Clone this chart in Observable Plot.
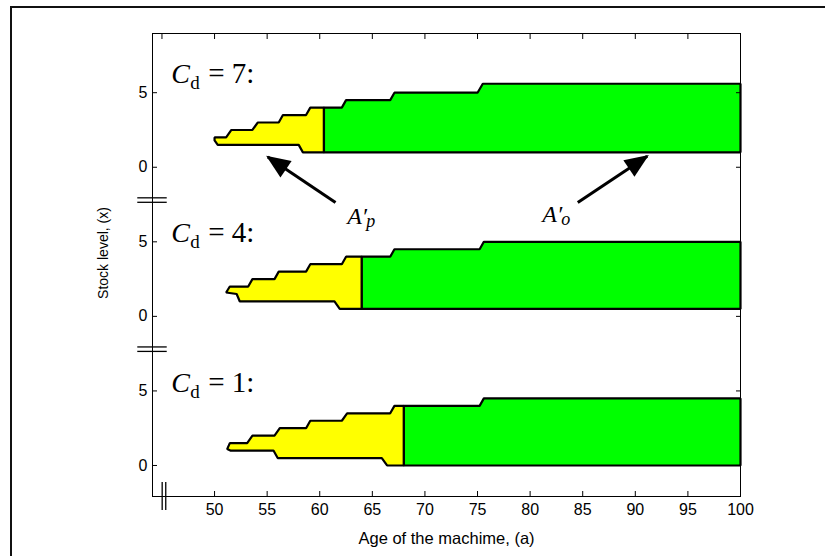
<!DOCTYPE html>
<html><head><meta charset="utf-8">
<script src="https://cdn.jsdelivr.net/npm/d3@7"></script>
<script src="https://cdn.jsdelivr.net/npm/@observablehq/plot@0.6"></script>
<style>
html,body{margin:0;padding:0;background:#fff;}
#wrap{position:relative;width:825px;height:556px;overflow:hidden;background:#fff;}
#border{position:absolute;left:10px;top:6px;width:900px;height:700px;border-top:2px solid #111;border-left:2px solid #111;}
#chart{position:absolute;left:0;top:0;}
</style></head><body>
<div id="wrap"><div id="border"></div><div id="chart"></div></div>
<script>
// ---- data ----
const cdValues = ["7", "4", "1"];          // C_d of each panel, top to bottom
const panelOffset = [20, 10, 0];           // vertical offset of each panel on the shared y scale
const dividers = [60.4, 64.0, 68.0];       // age separating A'_p (yellow) and A'_o (green)

const upper7 = [[50.0,2.0],[51.1,2.0],[51.6,2.5],[53.6,2.5],[54.1,3.0],[56.1,3.0],[56.5,3.5],[58.7,3.5],[59.1,4.0],[60.4,4.0],[62.1,4.0],[62.5,4.5],[66.7,4.5],[67.1,5.0],[75.0,5.0],[75.5,5.6],[100,5.6]];
const lower7 = [[50.0,1.8],[50.3,1.5],[58.0,1.5],[58.4,1.0],[60.4,1.0],[100,1.0]];
const upper4 = [[51.45,2.0],[53.2,2.0],[53.6,2.5],[55.7,2.5],[56.1,3.0],[58.7,3.0],[59.1,3.5],[62.1,3.5],[62.5,4.0],[64.0,4.0],[66.7,4.0],[67.1,4.5],[75.2,4.5],[75.6,5.0],[100,5.0]];
const lower4 = [[51.1,1.6],[52.1,1.5],[52.4,1.0],[61.4,1.0],[61.9,0.5],[64.0,0.5],[100,0.5]];
const upper1 = [[51.45,1.5],[53.1,1.5],[53.6,2.0],[55.7,2.0],[56.2,2.5],[58.7,2.5],[59.1,3.0],[62.1,3.0],[62.6,3.5],[66.7,3.5],[67.1,4.0],[68.0,4.0],[75.2,4.0],[75.6,4.5],[100,4.5]];
const lower1 = [[51.2,1.1],[51.5,1.0],[55.6,1.0],[56.0,0.5],[65.9,0.5],[66.4,0.0],[68.0,0.0],[100,0.0]];

const xTicksTop = [45,50,55,60,65,70,75,80,85,90,95,100];
const xTicksBottom = [50,55,60,65,70,75,80,85,90,95,100];
const yTicks = [0,5,10,15,20,25];
const yTickLabels = ["0","5","0","5","0","5"];
const yBreaks = [7.8, 17.8];
const xBreak = [45.02, 45.36];

const arrowX1 = [61.5, 84.53], arrowY1 = [17.63, 17.63];
const arrowX2 = [55.06, 91.13], arrowY2 = [20.69, 20.74];
const areaSubs = ["p", "o"];
const areaLabelX = [62.61, 81.15], areaLabelY = [16.17, 16.33];
const cdLabelX = 45.88, cdLabelY = [25.62, 14.99, 4.92];

// ---- build polygons ----
const uppers = [upper7, upper4, upper1], lowers = [lower7, lower4, lower1];
const yellowPts = [], greenPts = [];
uppers.forEach((up, i) => {
  const lo = lowers[i], div = dividers[i], off = panelOffset[i];
  const yl = [...up.filter(d => d[0] <= div), ...lo.filter(d => d[0] <= div).reverse()];
  const gr = [...up.filter(d => d[0] >= div), ...lo.filter(d => d[0] >= div).reverse()];
  yl.forEach(([x, y]) => yellowPts.push({panel: i, x, y: y + off}));
  gr.forEach(([x, y]) => greenPts.push({panel: i, x, y: y + off}));
});
const arrows = arrowX1.map((x1, i) => ({x1, y1: arrowY1[i], x2: arrowX2[i], y2: arrowY2[i]}));

const serif = "'Liberation Serif', 'Times New Roman', serif";
const sans = "'Liberation Sans', Arial, sans-serif";

const chart = Plot.plot({
  width: 825, height: 556,
  marginLeft: 152, marginRight: 85, marginTop: 33, marginBottom: 60,
  style: {background: "transparent", fontFamily: sans, fontSize: "16px", color: "black", overflow: "visible"},
  x: {domain: [44.1, 100], label: null},
  y: {domain: [-2.08, 28.97], label: null},
  marks: [
    Plot.line(yellowPts, {x: "x", y: "y", z: "panel", curve: "linear-closed", fill: "#ffff00", stroke: "black", strokeWidth: 2.2, strokeLinejoin: "miter"}),
    Plot.line(greenPts, {x: "x", y: "y", z: "panel", curve: "linear-closed", fill: "#00ff00", stroke: "black", strokeWidth: 2.2, strokeLinejoin: "miter"}),
    Plot.frame({stroke: "black", strokeWidth: 1}),
    Plot.axisX({anchor: "top", ticks: xTicksTop, tickSize: -5, tickFormat: () => "", label: null}),
    Plot.axisX({anchor: "bottom", ticks: xTicksBottom, tickSize: -5, tickPadding: 12, fontSize: 16, label: null}),
    Plot.axisY({anchor: "left", ticks: yTicks, tickSize: -5, tickPadding: 10, fontSize: 16, tickFormat: d => yTickLabels[yTicks.indexOf(d)], label: null}),
    Plot.axisY({anchor: "right", ticks: yTicks, tickSize: -5, tickFormat: () => "", label: null}),
    // axis breaks
    Plot.ruleY(yBreaks.flatMap(b => [b - 0.15, b + 0.15]), {x1: 42.7, x2: 45.5, stroke: "black", strokeWidth: 1.3}),
    Plot.ruleX(xBreak, {y1: -1.14, y2: -3.02, stroke: "black", strokeWidth: 1.3}),
    // axis titles
    Plot.text(["Age of the machime, (a)"], {frameAnchor: "bottom", dy: 42, lineAnchor: "middle", fontSize: 16.5}),
    Plot.text(["Stock level, (x)"], {frameAnchor: "left", dx: -49, dy: -12, rotate: -90, textAnchor: "middle", lineAnchor: "middle", fontSize: 14}),
    // C_d labels
    Plot.text(cdValues, {x: cdLabelX, y: (d, i) => cdLabelY[i], text: () => "C", textAnchor: "start", lineAnchor: "bottom", fontFamily: serif, fontStyle: "italic", fontSize: 28}),
    Plot.text(cdValues, {x: cdLabelX, y: (d, i) => cdLabelY[i], text: () => "d", dx: 19, dy: 6, textAnchor: "start", lineAnchor: "bottom", fontFamily: serif, fontSize: 19}),
    Plot.text(cdValues, {x: cdLabelX, y: (d, i) => cdLabelY[i], text: d => "= " + d + ":", dx: 37, textAnchor: "start", lineAnchor: "bottom", fontFamily: serif, fontSize: 29}),
    // arrows and area labels
    Plot.link(arrows, {x1: "x1", y1: "y1", x2: "x2", y2: "y2", stroke: "black", strokeWidth: 3, markerEnd: "arrow"}),
    Plot.text(areaSubs, {x: (d, i) => areaLabelX[i], y: (d, i) => areaLabelY[i], text: () => "A\u2032", textAnchor: "start", lineAnchor: "bottom", fontFamily: serif, fontStyle: "italic", fontSize: 24}),
    Plot.text(areaSubs, {x: (d, i) => areaLabelX[i], y: (d, i) => areaLabelY[i], text: d => d, dx: 19, dy: 3, textAnchor: "start", lineAnchor: "bottom", fontFamily: serif, fontStyle: "italic", fontSize: 18})
  ]
});

// filled triangular arrowheads
d3.select(chart).selectAll("marker").each(function() {
  const m = d3.select(this);
  m.attr("viewBox", "-24 -11 28 22").attr("markerWidth", 28).attr("markerHeight", 22)
   .attr("markerUnits", "userSpaceOnUse").attr("refX", 0).attr("refY", 0)
   .attr("fill", "black").attr("stroke", "none");
  m.selectAll("*").remove();
  m.append("path").attr("d", "M-22,-10L2,0L-22,10Z");
});

document.getElementById("chart").appendChild(chart);
</script>
</body></html>
